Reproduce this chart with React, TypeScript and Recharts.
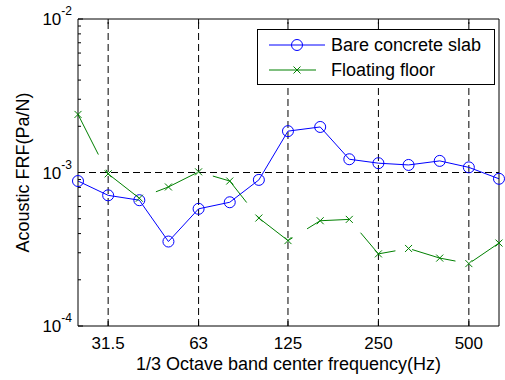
import { LineChart, Line, XAxis, YAxis, ReferenceLine } from "recharts";

// 1/3 octave band centre frequencies (Hz)
const freqs = [25, 31.5, 40, 50, 63, 80, 100, 125, 160, 200, 250, 315, 400, 500, 630];
const bareSlab = [8.8e-4, 7.1e-4, 6.6e-4, 3.55e-4, 5.8e-4, 6.4e-4, 8.95e-4, 1.86e-3, 1.98e-3, 1.22e-3, 1.15e-3, 1.12e-3, 1.19e-3, 1.08e-3, 9.1e-4];
const floatingFloor = [2.39e-3, 9.8e-4, 6.8e-4, 8.05e-4, 1.01e-3, 8.8e-4, 5.05e-4, 3.6e-4, 4.85e-4, 4.95e-4, 2.95e-4, 3.2e-4, 2.77e-4, 2.55e-4, 3.47e-4];

const xTicks = [31.5, 63, 125, 250, 500];
const yTicks = [
  1e-4, 2e-4, 3e-4, 4e-4, 5e-4, 6e-4, 7e-4, 8e-4, 9e-4,
  1e-3, 2e-3, 3e-3, 4e-3, 5e-3, 6e-3, 7e-3, 8e-3, 9e-3, 1e-2,
];
const yMajor = [1e-4, 1e-3, 1e-2];
const seriesNames = ["Bare concrete slab", "Floating floor"];

const FONT = '"Liberation Sans", Arial, Helvetica, sans-serif';
const BLUE = "#0000ff";
const GREEN = "#008000";

const data = freqs.map((f, i) => ({ freq: f, bare: bareSlab[i], floating: floatingFloor[i] }));

const isMajor = (v: number) => yMajor.some((m) => Math.abs(m - v) / m < 1e-6);

function LeftTick({ x, y, payload }: any) {
  const v = payload.value;
  const major = isMajor(v);
  return (
    <g>
      <line x1={x} y1={y} x2={x + (major ? 5 : 3)} y2={y} stroke="#000" />
      {major && (
        <text x={x - 6} y={y + 6} textAnchor="end" fontFamily={FONT} fontSize={17} fill="#000">
          10
          <tspan dy={-10} fontSize={12}>{Math.round(Math.log10(v))}</tspan>
        </text>
      )}
    </g>
  );
}

function RightTick({ x, y, payload }: any) {
  const major = isMajor(payload.value);
  return <line x1={x} y1={y} x2={x - (major ? 5 : 3)} y2={y} stroke="#000" />;
}

function BottomTick({ x, y, payload }: any) {
  return (
    <g>
      <line x1={x} y1={y} x2={x} y2={y - 5} stroke="#000" />
      <text x={x} y={y + 23} textAnchor="middle" fontFamily={FONT} fontSize={17} fill="#000">
        {String(payload.value)}
      </text>
    </g>
  );
}

function TopTick({ x, y }: any) {
  return <line x1={x} y1={y} x2={x} y2={y + 5} stroke="#000" />;
}

function XMark({ cx, cy }: any) {
  if (cx == null || cy == null) return null;
  const s = 3.5;
  return (
    <path
      d={`M${cx - s},${cy - s}L${cx + s},${cy + s}M${cx - s},${cy + s}L${cx + s},${cy - s}`}
      stroke={GREEN}
      strokeWidth={1}
      fill="none"
    />
  );
}

function YLabel({ viewBox }: any) {
  const cy = viewBox.y + viewBox.height / 2;
  return (
    <text
      x={23}
      y={cy}
      transform={`rotate(-90, 23, ${cy})`}
      textAnchor="middle"
      dominantBaseline="central"
      fontFamily={FONT}
      fontSize={18}
      fill="#000"
    >
      Acoustic FRF(Pa/N)
    </text>
  );
}

function XLabel({ viewBox }: any) {
  return (
    <text
      x={viewBox.x + viewBox.width / 2}
      y={viewBox.y + 44}
      textAnchor="middle"
      fontFamily={FONT}
      fontSize={18}
      fill="#000"
    >
      1/3 Octave band center frequency(Hz)
    </text>
  );
}

function LegendBox() {
  return (
    <svg
      width={238}
      height={56}
      style={{ position: "absolute", left: 257, top: 29, fontFamily: FONT }}
    >
      <rect x={0.5} y={0.5} width={237} height={55} fill="#fff" stroke="#000" />
      <line x1={12} y1={16} x2={68} y2={16} stroke={BLUE} />
      <circle cx={40} cy={16} r={5.5} fill="none" stroke={BLUE} />
      <text x={74} y={22} fontSize={18} fill="#000">{seriesNames[0]}</text>
      <line x1={12} y1={41} x2={59} y2={41} stroke={GREEN} />
      <XMark cx={40} cy={41} />
      <text x={74} y={47} fontSize={18} fill="#000">{seriesNames[1]}</text>
    </svg>
  );
}

export default function App() {
  return (
    <div style={{ position: "absolute", left: 0, top: 0, width: 505, height: 380, background: "#fff" }}>
      <LineChart width={505} height={380} data={data} margin={{ top: 18, right: 5, bottom: 0, left: 0 }}>
        <XAxis
          dataKey="freq"
          type="number"
          scale="log"
          domain={[25, 630]}
          ticks={xTicks}
          interval={0}
          height={54}
          tickSize={0}
          tickMargin={0}
          tick={<BottomTick />}
          axisLine={{ stroke: "#000" }}
          tickLine={false}
          label={<XLabel />}
        />
        <XAxis
          xAxisId="top"
          orientation="top"
          dataKey="freq"
          type="number"
          scale="log"
          domain={[25, 630]}
          ticks={xTicks}
          interval={0}
          height={1}
          tickSize={0}
          tickMargin={0}
          tick={<TopTick />}
          axisLine={{ stroke: "#000" }}
          tickLine={false}
        />
        <YAxis
          type="number"
          scale="log"
          domain={[1e-4, 1e-2]}
          ticks={yTicks}
          interval={0}
          width={78}
          tickSize={0}
          tickMargin={0}
          tick={<LeftTick />}
          axisLine={{ stroke: "#000" }}
          tickLine={false}
          label={<YLabel />}
        />
        <YAxis
          yAxisId="right"
          orientation="right"
          type="number"
          scale="log"
          domain={[1e-4, 1e-2]}
          ticks={yTicks}
          interval={0}
          width={1}
          tickSize={0}
          tickMargin={0}
          tick={<RightTick />}
          axisLine={{ stroke: "#000" }}
          tickLine={false}
        />
        {xTicks.map((t) => (
          <ReferenceLine key={t} x={t} stroke="#000" strokeDasharray="7 4" />
        ))}
        <ReferenceLine y={1e-3} stroke="#000" strokeDasharray="7 4" />
        <Line
          dataKey="bare"
          name={seriesNames[0]}
          stroke={BLUE}
          strokeWidth={1}
          dot={{ r: 5.5, fill: "none", stroke: BLUE, strokeWidth: 1 }}
          activeDot={false}
          isAnimationActive={false}
        />
        <Line
          dataKey="floating"
          name={seriesNames[1]}
          stroke={GREEN}
          strokeWidth={1}
          strokeDasharray="45 17"
          dot={<XMark />}
          activeDot={false}
          isAnimationActive={false}
        />
      </LineChart>
      <LegendBox />
    </div>
  );
}
